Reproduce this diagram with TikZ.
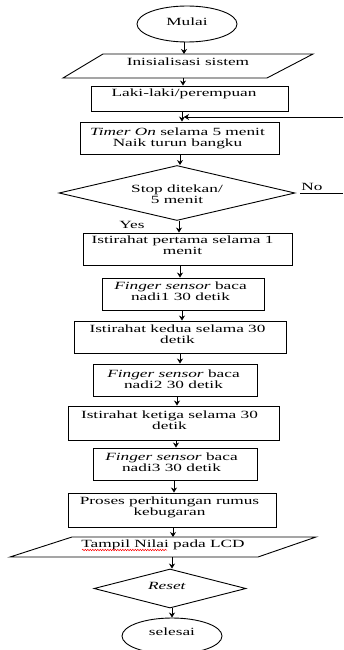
\documentclass[tikz,border=0pt]{standalone}
\usepackage{fontspec}
\setmainfont{Liberation Serif}[FakeStretch=1.57, ItalicFont={Liberation Serif Italic}, BoldFont={Liberation Serif Bold}]
\usetikzlibrary{shapes.geometric,arrows.meta,decorations.pathmorphing}
\begin{document}
\begin{tikzpicture}[x=1pt,y=-1pt,
  line width=0.9pt,
  txt/.style={inner sep=0pt, align=center, font=\fontsize{11}{11}\selectfont},
  box/.style={draw, rectangle, inner sep=0pt},
  term/.style={draw, ellipse, inner sep=0pt, minimum width=100pt, minimum height=36pt},
  dec/.style={draw, diamond, inner sep=0pt},
  arr/.style={-{Stealth[length=5pt,width=6pt]}},
  squig/.style={red, line width=0.5pt, decorate, decoration={snake, amplitude=0.7pt, segment length=2.5pt}}
]
\useasboundingbox (0,0) rectangle (343,650);

% terminals
\node[term] (mulai) at (187,24) {};
\node[txt] (t-mulai) at (187,22) {Mulai};

% Inisialisasi parallelogram
\coordinate (ini-tl) at (103,54);
\coordinate (ini-tr) at (313,54);
\coordinate (ini-br) at (267,78);
\coordinate (ini-bl) at (63,78);
\draw (ini-tl) -- (ini-tr) -- (ini-br) -- (ini-bl) -- cycle;
\node[txt] (t-ini) at (188,62) {Inisialisasi sistem};

% boxes
\node[box, minimum width=197pt, minimum height=25pt] (laki) at (189.5,98.5) {};
\node[txt] (t-laki) at (184,94) {Laki-laki/perempuan};

\node[box, minimum width=199pt, minimum height=32pt] (timer) at (179.5,138) {};
\node[txt] (t-timer) at (177.5,138.5) {\textit{Timer On} selama 5 menit\\Naik turun bangku};

\node[dec, minimum width=236pt, minimum height=55pt] (stop) at (177,193) {};
\node[txt] (t-stop) at (177,194) {Stop ditekan/\\5 menit};

\node[box, minimum width=209pt, minimum height=32pt] (i1) at (187.5,249) {};
\node[txt] (t-i1) at (182.5,245.5) {Istirahat pertama selama 1\\menit};

\node[box, minimum width=162pt, minimum height=32pt] (f1) at (183,294) {};
\node[txt] (t-f1) at (180.5,291.5) {\textit{Finger sensor} baca\\nadi1 30 detik};

\node[box, minimum width=212pt, minimum height=32pt] (i2) at (180,337) {};
\node[txt] (t-i2) at (177.5,334.5) {Istirahat kedua selama 30\\detik};

\node[box, minimum width=164pt, minimum height=32pt] (f2) at (175,380) {};
\node[txt] (t-f2) at (173.5,379) {\textit{Finger sensor} baca\\nadi2 30 detik};

\node[box, minimum width=211pt, minimum height=34pt] (i3) at (173.5,423) {};
\node[txt] (t-i3) at (169.5,420.5) {Istirahat ketiga selama 30\\detik};

\node[box, minimum width=164pt, minimum height=32pt] (f3) at (175,464) {};
\node[txt] (t-f3) at (171.5,462.5) {\textit{Finger sensor} baca\\nadi3 30 detik};

\node[box, minimum width=208pt, minimum height=34pt] (pr) at (172,510) {};
\node[txt] (t-pr) at (169.5,507.5) {Proses perhitungan rumus\\kebugaran};

% Tampil parallelogram
\coordinate (tp-tl) at (72,537);
\coordinate (tp-tr) at (316,537);
\coordinate (tp-br) at (258,557);
\coordinate (tp-bl) at (10,557);
\draw (tp-tl) -- (tp-tr) -- (tp-br) -- (tp-bl) -- cycle;
\node[txt] (t-tp) at (163,545) {Tampil Nilai pada LCD};
\coordinate (sq-a) at (82,550);
\coordinate (sq-b) at (167,550);
\draw[squig] (sq-a) -- (sq-b);

\node[dec, minimum width=152pt, minimum height=39pt] (reset) at (170,588.5) {};
\node[txt] (t-reset) at (167,586) {\textit{Reset}};

\node[term] (selesai) at (172,636) {};
\node[txt] (t-selesai) at (172,632) {selesai};

% labels
\node[txt] (no) at (312,187) {No};
\node[txt] (yes) at (132,225) {Yes};

% arrow columns
\coordinate (a1) at (184,0);
\coordinate (a2) at (183,0);
\coordinate (a3) at (182,0);
\coordinate (a4) at (180,0);
\coordinate (a5) at (179,0);
\coordinate (a6) at (180,0);
\coordinate (a7) at (182,0);
\coordinate (a8) at (180,0);
\coordinate (a9) at (177,0);
\coordinate (a10) at (176,0);
\coordinate (a11) at (174,0);
\coordinate (a12) at (173,0);
\coordinate (a13) at (172,0);
\coordinate (a14) at (172,0);

\draw[arr] (a1 |- mulai.south) -- (a1 |- ini-tl);
\draw[arr] (a2 |- ini-bl) -- (a2 |- laki.north);
\draw[arr] (a3 |- laki.south) -- (a3 |- timer.north);
\draw[arr] (a4 |- timer.south) -- (a4 |- stop.north);
\draw[arr] (a5 |- stop.south) -- (a5 |- i1.north);
\draw[arr] (a6 |- i1.south) -- (a6 |- f1.north);
\draw[arr] (a7 |- f1.south) -- (a7 |- i2.north);
\draw[arr] (a8 |- i2.south) -- (a8 |- f2.north);
\draw[arr] (a9 |- f2.south) -- (a9 |- i3.north);
\draw[arr] (a10 |- i3.south) -- (a10 |- f3.north);
\draw[arr] (a11 |- f3.south) -- (a11 |- pr.north);
\draw[arr] (a12 |- pr.south) -- (a12 |- tp-tl);
\draw[arr] (a13 |- tp-bl) -- (a13 |- reset.north);
\draw[arr] (a14 |- reset.south) -- (a14 |- selesai.north);

% loop lines (No branch)
\coordinate (noR) at (343,193);
\coordinate (loopR) at (343,117);
\draw[shorten <=5pt] (stop.east) -- (noR);
\draw[arr, shorten >=2pt] (loopR) -- (a3 |- loopR);
\end{tikzpicture}
\end{document}
